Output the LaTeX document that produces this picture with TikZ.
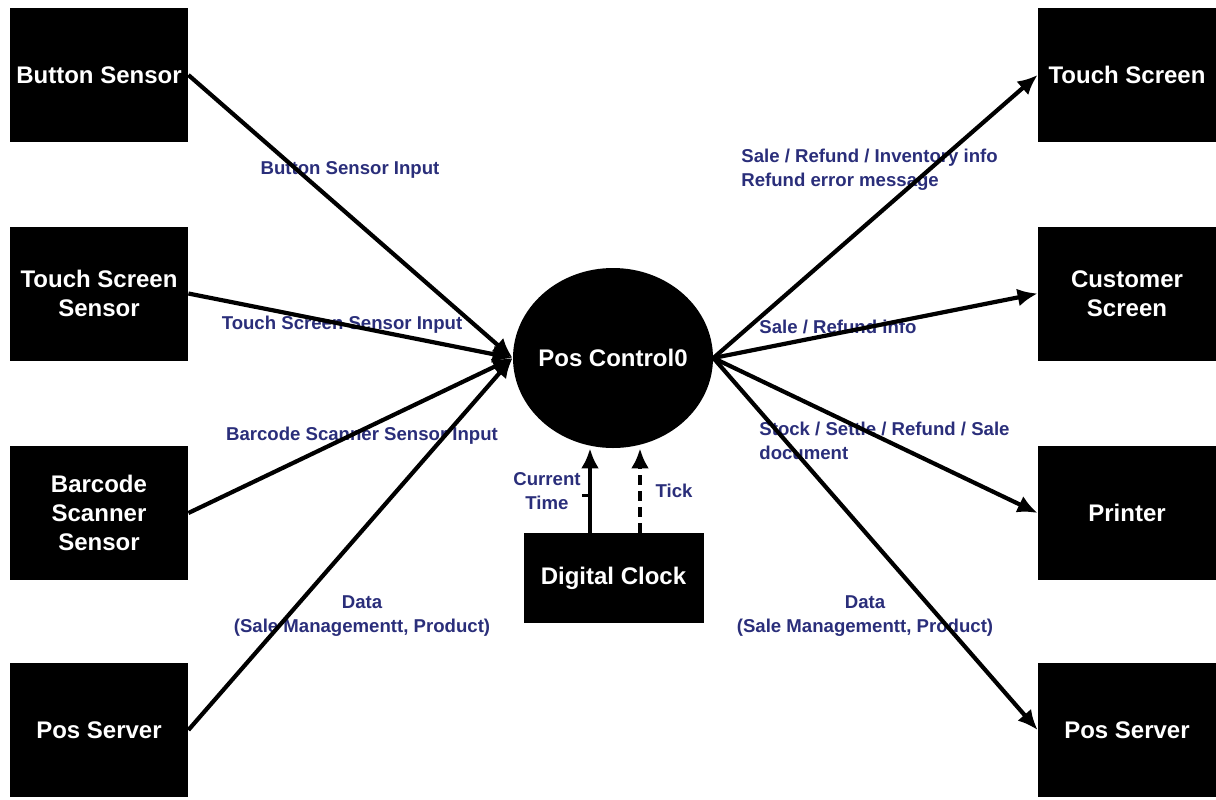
\documentclass[tikz,border=0pt]{standalone}
\usepackage{fontspec}
\setmainfont{Liberation Sans}
\usetikzlibrary{arrows.meta,calc,shapes.geometric}
\definecolor{lbl}{RGB}{42,46,122}
\begin{document}
\begin{tikzpicture}[x=0.5pt,y=-0.5pt,
  ent/.style={fill=black,draw=none,text=white,font=\bfseries\fontsize{12}{14.5}\selectfont,
    align=center,minimum width=89pt,minimum height=67pt,inner sep=0pt},
  lab/.style={text=lbl,font=\bfseries\fontsize{9.3}{12}\selectfont,inner sep=0pt},
  flow/.style={line width=2.1pt,-{Latex[length=10pt,width=9pt]}},
]
\useasboundingbox (0,0) rectangle (1216,799);

% flow labels (drawn first so the lines pass over them)
\node[lab] (l1) at (350,170) {Button Sensor Input};
\node[lab] (l2) at (342,325) {Touch Screen Sensor Input};
\node[lab] (l3) at (362,436) {Barcode Scanner Sensor Input};
\node[lab,align=center] (l4) at (362,616) {Data\\(Sale Managementt, Product)};
\node[lab,align=left,anchor=west] (r1) at (741,170) {Sale / Refund / Inventory info\\Refund error message};
\node[lab,anchor=west] (r2) at (759,327) {Sale / Refund info};
\node[lab,align=left,anchor=west] (r3) at (759,441) {Stock / Settle / Refund / Sale\\document};
\node[lab,align=center] (r4) at (865,616) {Data\\(Sale Managementt, Product)};
\node[lab,align=center] (ctl) at (547,491) {Current\\Time};
\node[lab] (tkl) at (674,491) {Tick};

% external entities
\node[ent] (bs)  at (99,75)    {Button Sensor};
\node[ent] (tss) at (99,293.5) {Touch Screen\\Sensor};
\node[ent] (bcs) at (99,513)   {Barcode\\Scanner\\Sensor};
\node[ent] (psl) at (99,730)   {Pos Server};
\node[ent] (ts)  at (1127,75)    {Touch Screen};
\node[ent] (cs)  at (1127,293.5) {Customer\\Screen};
\node[ent] (pr)  at (1127,513)   {Printer};
\node[ent] (psr) at (1127,730)   {Pos Server};

% central process
\node[ellipse,fill=black,minimum width=100pt,minimum height=90pt,inner sep=0pt,
  label={[text=white,font=\bfseries\fontsize{12}{14.5}\selectfont]center:Pos Control0}]
  (pc) at (613,358) {};

% clock
\node[ent,minimum width=90pt,minimum height=45pt] (dc) at (613.5,578) {Digital Clock};

% inputs
\draw[flow] (bs.east)  -- (pc.west);
\draw[flow] (tss.east) -- (pc.west);
\draw[flow] (bcs.east) -- (pc.west);
\draw[flow] (psl.east) -- (pc.west);

% outputs
\draw[flow] (pc.east) -- (ts.west);
\draw[flow] (pc.east) -- (cs.west);
\draw[flow] (pc.east) -- (pr.west);
\draw[flow] (pc.east) -- (psr.west);

% clock signals
\coordinate (cta) at ($(dc.north)+(-23.5,0)$);
\coordinate (tka) at ($(dc.north)+(26.5,0)$);
\draw[flow] (cta) -- (pc.south -| cta);
\draw[flow,dash pattern=on 5pt off 3pt] (tka) -- (pc.south -| tka);
\coordinate (stub) at ($(cta)!0.44!(pc.south -| cta)$);
\draw[line width=1.5pt] (stub) -- ++(-8,0);
\end{tikzpicture}
\end{document}
